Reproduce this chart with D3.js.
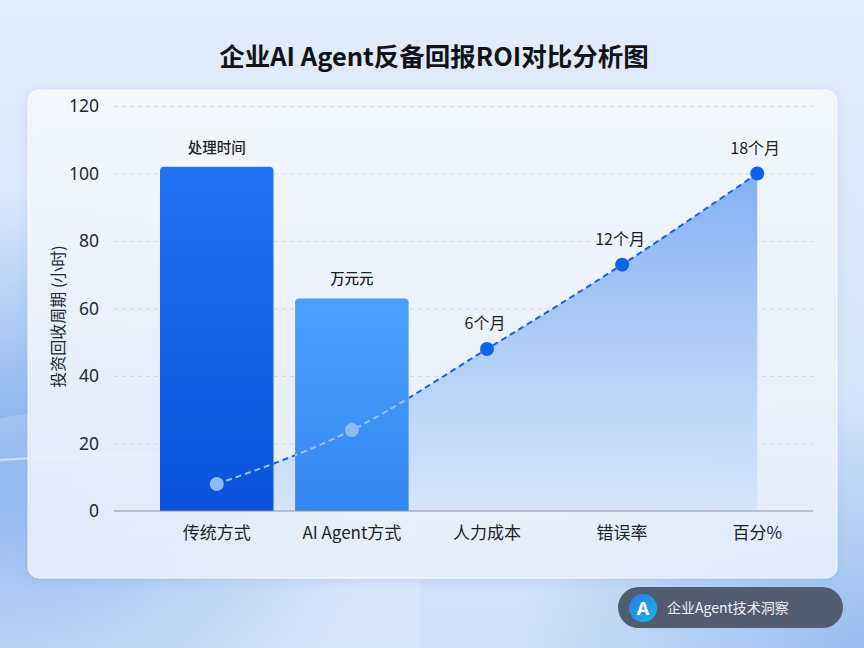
<!DOCTYPE html>
<html>
<head>
<meta charset="utf-8">
<script src="https://cdn.jsdelivr.net/npm/d3@7/dist/d3.min.js"></script>
<style>
  html, body { margin: 0; padding: 0; background: #dbe8fa; }
  svg { display: block; font-family: "Noto Sans CJK SC", "Noto Sans", sans-serif; }
</style>
</head>
<body>
<div id="chart"></div>
<script>
// chart data
const categories = ["传统方式", "AI Agent方式", "人力成本", "错误率", "百分%"];
const barValues = [102, 63];
const barLabels = ["处理时间", "万元元"];
const lineValues = [8, 24, 48, 73, 100];
const lineLabels = ["", "", "6个月", "12个月", "18个月"];
const yTicks = [0, 20, 40, 60, 80, 100, 120];

const width = 864, height = 648;
const plot = { left: 114, right: 813, top: 106, bottom: 511 };

const svg = d3.select("#chart").append("svg")
    .attr("width", width)
    .attr("height", height)
    .attr("viewBox", `0 0 ${width} ${height}`);

const defs = svg.append("defs");

// background
const bg = defs.append("linearGradient").attr("id", "bg")
    .attr("x1", "0%").attr("y1", "0%").attr("x2", "0%").attr("y2", "100%");
bg.append("stop").attr("offset", "0%").attr("stop-color", "#e1ecfb");
bg.append("stop").attr("offset", "100%").attr("stop-color", "#cfe0f8");

const blobL = defs.append("radialGradient").attr("id", "blobL")
    .attr("cx", "0%").attr("cy", "75%").attr("r", "45%");
blobL.append("stop").attr("offset", "0%").attr("stop-color", "#6fa3ec").attr("stop-opacity", 0.9);
blobL.append("stop").attr("offset", "100%").attr("stop-color", "#6fa3ec").attr("stop-opacity", 0);

const blobR = defs.append("radialGradient").attr("id", "blobR")
    .attr("cx", "100%").attr("cy", "100%").attr("r", "40%");
blobR.append("stop").attr("offset", "0%").attr("stop-color", "#8ab5f0").attr("stop-opacity", 0.8);
blobR.append("stop").attr("offset", "100%").attr("stop-color", "#8ab5f0").attr("stop-opacity", 0);

svg.append("rect").attr("width", width).attr("height", height).attr("fill", "url(#bg)");
svg.append("rect").attr("width", width).attr("height", height).attr("fill", "url(#blobL)");
svg.append("rect").attr("width", width).attr("height", height).attr("fill", "url(#blobR)");

// soft waves bottom-left
svg.append("path")
    .attr("d", "M0,418 C120,398 260,400 420,428 L420,648 L0,648 Z")
    .attr("fill", "#ffffff").attr("opacity", 0.18);
svg.append("path")
    .attr("d", "M0,460 C140,450 300,453 480,468")
    .attr("fill", "none").attr("stroke", "#ffffff").attr("stroke-width", 2).attr("opacity", 0.5);

// card
const shadow = defs.append("filter").attr("id", "shadow")
    .attr("x", "-5%").attr("y", "-5%").attr("width", "110%").attr("height", "115%");
shadow.append("feDropShadow").attr("dx", 0).attr("dy", 3).attr("stdDeviation", 6)
    .attr("flood-color", "#5b86c9").attr("flood-opacity", 0.18);

const cardFill = defs.append("linearGradient").attr("id", "cardFill")
    .attr("x1", "0%").attr("y1", "0%").attr("x2", "0%").attr("y2", "100%");
cardFill.append("stop").attr("offset", "0%").attr("stop-color", "#f4f8fe").attr("stop-opacity", 0.95);
cardFill.append("stop").attr("offset", "100%").attr("stop-color", "#e9f1fc").attr("stop-opacity", 0.85);

svg.append("rect")
    .attr("x", 28).attr("y", 90).attr("width", 809).attr("height", 488).attr("rx", 11)
    .attr("fill", "url(#cardFill)")
    .attr("stroke", "#ffffff").attr("stroke-opacity", 0.8)
    .attr("filter", "url(#shadow)");

// title
svg.append("text")
    .attr("x", width / 2 + 2).attr("y", 66)
    .attr("text-anchor", "middle")
    .attr("font-size", 25.5).attr("font-weight", 700)
    .attr("fill", "#111318")
    .text("企业AI Agent反备回报ROI对比分析图");

// scales
const x = d3.scaleBand()
    .domain(categories)
    .range([160, 814])
    .paddingInner(0.16)
    .paddingOuter(0);

const y = d3.scaleLinear()
    .domain([0, 120])
    .range([plot.bottom, plot.top]);

const cx = d => x(d) + x.bandwidth() / 2;

// grid
svg.append("g")
    .call(d3.axisLeft(y).tickValues(yTicks.filter(t => t > 0)).tickSize(-(plot.right - plot.left)).tickFormat(""))
    .attr("transform", `translate(${plot.left},0)`)
    .call(g => g.select(".domain").remove())
    .selectAll("line")
    .attr("stroke", "#d3dae5")
    .attr("stroke-dasharray", "4,4");

// y axis labels
svg.append("g")
    .attr("transform", `translate(${plot.left},0)`)
    .call(d3.axisLeft(y).tickValues(yTicks).tickSize(0).tickPadding(15))
    .call(g => g.select(".domain").remove())
    .selectAll("text")
    .attr("fill", "#262a30")
    .style("font-size", "17.5px")
    .style("font-family", "'Noto Sans', 'Noto Sans CJK SC', sans-serif");

svg.append("text")
    .attr("transform", `translate(64,${(plot.top + plot.bottom) / 2 + 8}) rotate(-90)`)
    .attr("text-anchor", "middle")
    .attr("font-size", 16)
    .attr("fill", "#23272e")
    .text("投资回收周期 (小时)");

// area + line
const points = categories.map((c, i) => ({ cat: c, value: lineValues[i], label: lineLabels[i] }));

const areaGrad = defs.append("linearGradient").attr("id", "areaGrad")
    .attr("gradientUnits", "userSpaceOnUse")
    .attr("x1", 0).attr("y1", y(100)).attr("x2", 0).attr("y2", plot.bottom);
areaGrad.append("stop").attr("offset", "0%").attr("stop-color", "#76a8f3").attr("stop-opacity", 0.9);
areaGrad.append("stop").attr("offset", "100%").attr("stop-color", "#cfe1fa").attr("stop-opacity", 0.75);

const area = d3.area()
    .x(d => cx(d.cat))
    .y0(plot.bottom)
    .y1(d => y(d.value))
    .curve(d3.curveMonotoneX);

const line = d3.line()
    .x(d => cx(d.cat))
    .y(d => y(d.value))
    .curve(d3.curveMonotoneX);

svg.append("path")
    .datum(points)
    .attr("fill", "url(#areaGrad)")
    .attr("d", area);

svg.append("path")
    .datum(points)
    .attr("fill", "none")
    .attr("stroke", "#1a62d8")
    .attr("stroke-width", 2)
    .attr("stroke-dasharray", "6,4")
    .attr("d", line);

// bars
const bars = categories.slice(0, barValues.length).map((c, i) => ({ cat: c, value: barValues[i], label: barLabels[i] }));
const barColors = [["#2173f2", "#0b52d9"], ["#4aa1fc", "#3586f1"]];

barColors.forEach((cols, i) => {
    const g = defs.append("linearGradient").attr("id", `bar${i}`)
        .attr("x1", "0%").attr("y1", "0%").attr("x2", "0%").attr("y2", "100%");
    g.append("stop").attr("offset", "0%").attr("stop-color", cols[0]);
    g.append("stop").attr("offset", "100%").attr("stop-color", cols[1]);
});

const barPath = d => {
    const x0 = x(d.cat), x1 = x0 + x.bandwidth(), y0 = y(d.value), y1 = plot.bottom, r = 4;
    return `M${x0},${y1} L${x0},${y0 + r} Q${x0},${y0} ${x0 + r},${y0} L${x1 - r},${y0} Q${x1},${y0} ${x1},${y0 + r} L${x1},${y1} Z`;
};

svg.selectAll(".bar")
    .data(bars)
    .enter().append("path")
    .attr("class", "bar")
    .attr("fill", (d, i) => `url(#bar${i})`)
    .attr("d", barPath);

svg.selectAll(".bar-label")
    .data(bars)
    .enter().append("text")
    .attr("x", d => cx(d.cat))
    .attr("y", d => y(d.value) - 14)
    .attr("text-anchor", "middle")
    .attr("font-size", 14.5)
    .attr("font-weight", 500)
    .attr("fill", "#1d2127")
    .text(d => d.label);

// lighter line over bars
const clip = defs.append("clipPath").attr("id", "barClip");
clip.selectAll("path").data(bars).enter().append("path").attr("d", barPath);

svg.append("path")
    .datum(points)
    .attr("fill", "none")
    .attr("stroke", "#9cc6fb")
    .attr("stroke-width", 2)
    .attr("stroke-dasharray", "6,4")
    .attr("clip-path", "url(#barClip)")
    .attr("d", line);

// x axis
svg.append("line")
    .attr("x1", plot.left).attr("x2", plot.right)
    .attr("y1", plot.bottom).attr("y2", plot.bottom)
    .attr("stroke", "#8c939d").attr("stroke-width", 1.2);

svg.append("g")
    .attr("transform", `translate(0,${plot.bottom})`)
    .call(d3.axisBottom(x).tickSize(0).tickPadding(16))
    .call(g => g.select(".domain").remove())
    .selectAll("text")
    .attr("fill", "#1f2329")
    .style("font-size", "17px")
    .style("font-family", "'Noto Sans CJK SC', 'Noto Sans', sans-serif");

// dots + labels
svg.selectAll(".dot")
    .data(points)
    .enter().append("circle")
    .attr("cx", d => cx(d.cat))
    .attr("cy", d => y(d.value))
    .attr("r", 7)
    .attr("fill", (d, i) => i < barValues.length ? "#8dbdf7" : "#0b63e8");

svg.selectAll(".dot-label")
    .data(points.filter(d => d.label))
    .enter().append("text")
    .attr("x", d => cx(d.cat) - 2)
    .attr("y", d => y(d.value) - 20)
    .attr("text-anchor", "middle")
    .attr("font-size", 16)
    .attr("fill", "#1b1f25")
    .text(d => d.label);

// badge
const badge = svg.append("g").attr("transform", "translate(618,587)");
badge.append("rect")
    .attr("width", 225).attr("height", 41).attr("rx", 20.5)
    .attr("fill", "#525c71");
const iconGrad = defs.append("linearGradient").attr("id", "iconGrad")
    .attr("x1", "0%").attr("y1", "0%").attr("x2", "100%").attr("y2", "100%");
iconGrad.append("stop").attr("offset", "0%").attr("stop-color", "#2a7be8");
iconGrad.append("stop").attr("offset", "100%").attr("stop-color", "#17b6e4");
badge.append("circle").attr("cx", 25).attr("cy", 21).attr("r", 14).attr("fill", "url(#iconGrad)");
badge.append("text")
    .attr("x", 25).attr("y", 27.5)
    .attr("text-anchor", "middle")
    .attr("font-size", 18).attr("font-weight", 700)
    .attr("fill", "#ffffff")
    .style("font-family", "'Noto Sans', sans-serif")
    .text("A");
badge.append("text")
    .attr("x", 49).attr("y", 26)
    .attr("font-size", 14)
    .attr("fill", "#eef2f8")
    .text("企业Agent技术洞察");
</script>
</body>
</html>
